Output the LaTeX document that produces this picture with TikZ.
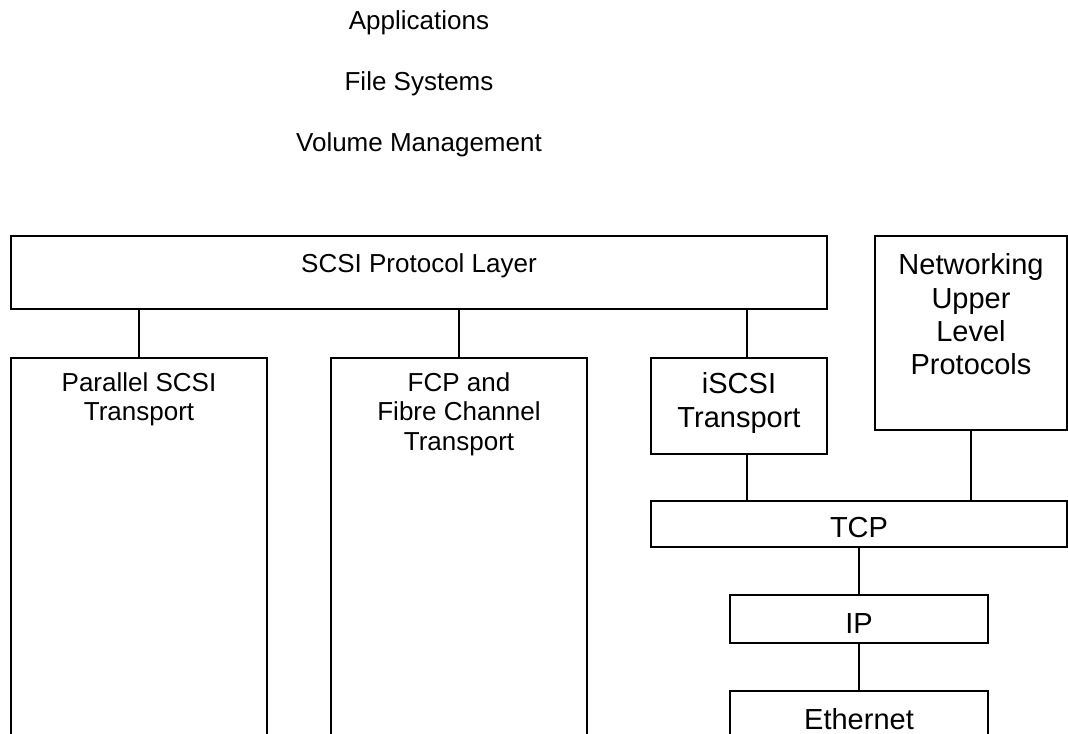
\documentclass[tikz,border=0pt]{standalone}
\usepackage{fontspec}
\setmainfont{Liberation Sans}
\usetikzlibrary{fit}

\begin{document}
\begin{tikzpicture}[x=0.75pt, y=-0.75pt, line width=1.1pt,
    layerbox/.style={draw, inner sep=0pt},
    smalltxt/.style={anchor=north, inner sep=0pt, align=center, font=\fontsize{19.5pt}{22pt}\selectfont},
    bigtxt/.style={anchor=north, inner sep=0pt, align=center, font=\fontsize{21.75pt}{25pt}\selectfont}]
    \clip (0,0) rectangle (1068,734);

    % Upper layers
    \node[smalltxt] (apps) at (419,10) {Applications};
    \node[smalltxt] (fs) at (419,71) {File Systems};
    \node[smalltxt] (vm) at (419,132) {Volume Management};

    % SCSI layer
    \node[layerbox, fit={(11,236) (827,309)}] (scsi) {};
    \node[smalltxt] (scsiT) at (419,253) {SCSI Protocol Layer};

    % Transports
    \node[layerbox, fit={(11,358) (267,760)}] (par) {};
    \node[smalltxt] (parT) at (139,372) {Parallel SCSI\\Transport};
    \node[layerbox, fit={(331,358) (587,760)}] (fcp) {};
    \node[smalltxt] (fcpT) at (459,372) {FCP and\\Fibre Channel\\Transport};
    \node[layerbox, fit={(651,358) (827,454)}] (iscsi) {};
    \node[bigtxt] (iscsiT) at (739,372) {iSCSI\\Transport};

    % Networking side
    \node[layerbox, fit={(875,236) (1067,430)}] (net) {};
    \node[bigtxt] (netT) at (971,253) {Networking\\Upper\\Level\\Protocols};
    \node[layerbox, fit={(651,501) (1067,547)}] (tcp) {};
    \node[bigtxt] (tcpT) at (859,517) {TCP};
    \node[layerbox, fit={(730,595) (988,643)}] (ip) {};
    \node[bigtxt] (ipT) at (859,613) {IP};
    \node[layerbox, fit={(730,691) (988,760)}] (eth) {};
    \node[bigtxt] (ethT) at (859,708) {Ethernet};

    % Connectors
    \draw (scsi.south -| par.north) -- (par.north);
    \draw (scsi.south -| fcp.north) -- (fcp.north);
    \coordinate (isup) at ([xshift=6pt]iscsi.north);
    \draw (isup |- scsi.south) -- (isup);
    \coordinate (isdn) at ([xshift=6pt]iscsi.south);
    \draw (isdn) -- (isdn |- tcp.north);
    \draw (net.south) -- (net.south |- tcp.north);
    \draw (tcp.south -| ip.north) -- (ip.north);
    \draw (ip.south) -- (eth.north);
\end{tikzpicture}
\end{document}
